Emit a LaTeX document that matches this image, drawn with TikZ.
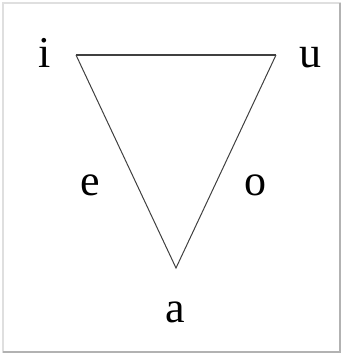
\documentclass[tikz,border=0pt]{standalone}
\usepackage{fontspec}
\setmainfont{Liberation Serif}
\usepackage{tikz}

\begin{document}
\begin{tikzpicture}[x=1pt, y=-1pt, vowel/.style={anchor=base, inner sep=0pt, font=\fontsize{44}{44}\selectfont}]
  \useasboundingbox (0,0) rectangle (343,355);
  \draw[gray!25, line width=2pt] (3,3) rectangle (340,352);
  \draw[gray!60, line width=1.2pt] (3,352) -- (340,352) -- (340,3);
  \coordinate (I) at (76,55);
  \coordinate (U) at (276,55);
  \coordinate (A) at (176,268);
  \node[vowel] (i) at (45,68)  {i};
  \node[vowel] (u) at (310,68) {u};
  \node[vowel] (e) at (90,195) {e};
  \node[vowel] (o) at (255,195) {o};
  \node[vowel] (a) at (175,322) {a};
  \draw[black!75, line width=1.8pt] (I) -- (U);
  \draw[black!75, line width=1pt] (U) -- (A) -- (I);
\end{tikzpicture}
\end{document}
